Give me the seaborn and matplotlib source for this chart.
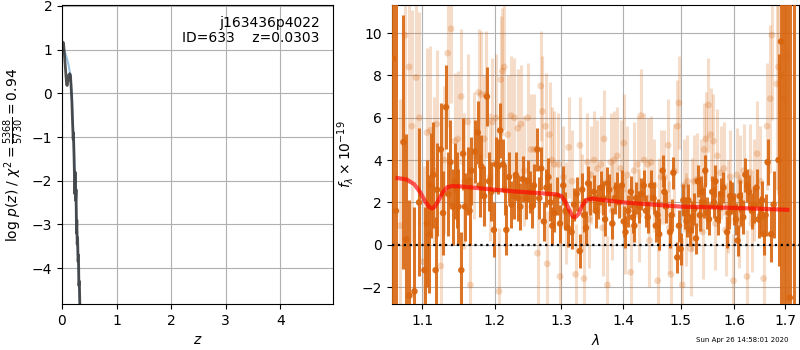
import numpy as np
import pandas as pd
import matplotlib
matplotlib.use("Agg")
import matplotlib.pyplot as plt
import seaborn as sns
from matplotlib.ticker import FixedLocator, FixedFormatter, NullLocator

# ---------------- data ----------------
# p(z) panel
pz_dark_z = [0.0, 0.01, 0.02, 0.03, 0.05, 0.07, 0.085, 0.095, 0.11, 0.125, 0.14, 0.155, 0.165,
             0.18, 0.19, 0.205, 0.21, 0.22, 0.235, 0.24, 0.25, 0.258, 0.265, 0.272, 0.278,
             0.286, 0.295, 0.302, 0.31, 0.318, 0.328]
pz_dark_logp = [0.95, 1.1, 1.17, 1.12, 0.8, 0.45, 0.2, 0.18, 0.3, 0.42, 0.45, 0.42, 0.2,
                -0.15, -0.55, -1.05, -0.9, -1.4, -2.3, -1.8, -2.45, -2.2, -3.2, -2.9, -3.45,
                -3.3, -3.85, -3.7, -4.4, -4.3, -4.9]
pz_blue_z = [0.0, 0.03, 0.06, 0.09, 0.12, 0.15, 0.17, 0.19, 0.21, 0.23, 0.25, 0.27, 0.29, 0.31, 0.33]
pz_blue_logp = [1.05, 1.0, 0.92, 0.8, 0.65, 0.45, 0.15, -0.35, -1.0, -1.7, -2.35, -3.0, -3.7, -4.35, -5.0]

# spectrum panel: grism orientation 1 (dark)
dark_wave = [1.0626, 1.0660, 1.0757, 1.0791, 1.0835, 1.0900, 1.0960, 1.1032, 1.1065, 1.1120,
             1.1180, 1.1200, 1.1250, 1.1280, 1.1320, 1.1350, 1.1410, 1.1440, 1.1490, 1.1530,
             1.1580, 1.1620, 1.1670, 1.1720, 1.1760, 1.1810, 1.1850, 1.1890, 1.1920, 1.1990,
             1.2050, 1.2080, 1.2120, 1.2170, 1.2210, 1.2280, 1.2340, 1.2410, 1.2460, 1.2520,
             1.2580, 1.2630, 1.2690, 1.2730, 1.2770, 1.2830, 1.2890, 1.2980, 1.3030, 1.3100,
             1.3160, 1.3240, 1.3290, 1.3330, 1.3390, 1.3460, 1.3520, 1.3580, 1.3640, 1.3700,
             1.3770, 1.3820, 1.3890, 1.3930, 1.3980, 1.4040, 1.4090, 1.4160, 1.4220, 1.4270,
             1.4350, 1.4420, 1.4480, 1.4560, 1.4620, 1.4680, 1.4740, 1.4810, 1.4870, 1.4940,
             1.5000, 1.5050, 1.5110, 1.5170, 1.5250, 1.5310, 1.5380, 1.5450, 1.5520, 1.5580,
             1.5640, 1.5710, 1.5790, 1.5860, 1.5920, 1.6000, 1.6060, 1.6130, 1.6210, 1.6280,
             1.6340, 1.6430, 1.6510, 1.6570, 1.6650, 1.6720, 1.6770, 1.6870, 1.6920, 1.6990,
             1.7050, 1.7100, 1.7180,
             1.1095, 1.1150, 1.1380, 1.1465, 1.1555, 1.1645, 1.1785, 1.1955, 1.2020, 1.2145,
             1.2245, 1.2310, 1.2375, 1.2490, 1.2550, 1.2660, 1.2800, 1.2860, 1.2940, 1.3065,
             1.3200, 1.3360, 1.3425, 1.3550, 1.3670, 1.3740, 1.3860, 1.4010, 1.4130, 1.4190,
             1.4310, 1.4390, 1.4520, 1.4590, 1.4710, 1.4840, 1.4970, 1.5080, 1.5140, 1.5210,
             1.5280, 1.5350, 1.5420, 1.5490, 1.5610, 1.5680, 1.5750, 1.5890, 1.5960, 1.6030,
             1.6100, 1.6170, 1.6250, 1.6380, 1.6470, 1.6540, 1.6610]
dark_flux = [8.8, 1.6, 4.85, 0.25, -2.4, -2.2, 2.0, -1.2, 1.0, 2.8,
             -1.2, 2.6, 4.5, 1.5, 6.5, 2.4, 1.8, 3.0, 1.8, -1.2,
             1.8, 3.0, 3.5, 4.4, 5.3, 3.7, 2.3, 7.0, 3.0, 0.7,
             3.7, 5.4, 3.8, 0.7, 3.2, 2.3, 2.2, 3.1, 2.2, 2.5,
             2.8, 4.5, 3.6, 1.1, 2.7, 2.0, 1.5, 1.0, 2.8, 0.8,
             0.6, 2.4, -0.3, 2.6, 0.8, 2.2, 2.5, 2.0, 2.7, 1.2,
             2.6, 1.0, 2.7, 2.0, 2.8, 0.6, 1.6, 1.3, 2.2, 1.8,
             2.8, 1.3, 2.8, 0.9, 0.5, 3.5, 1.8, 0.6, 3.4, -0.6,
             -0.2, 2.1, 1.1, 0.7, 1.7, 3.0, 2.5, 3.5, 1.2, 2.5,
             3.0, 1.8, 2.7, 0.6, 2.3, 1.7, 0.2, 1.7, 3.3, 2.5,
             1.6, 2.7, 1.4, 0.5, 3.9, 0.5, 1.9, 4.0, 9.6, 12.5,
             13.0, -2.5, 12.5,
             0.5, 3.3, 3.9, 2.6, 4.3, 1.6, 2.8, 2.5, 3.8, 2.6,
             1.9, 3.3, 1.8, 3.0, 1.8, 2.2, 3.2, 0.9, 2.3, 1.6,
             1.9, 1.4, 2.9, 1.6, 2.2, 2.9, 2.2, 1.1, 2.5, 0.9,
             2.4, 1.6, 2.2, 1.4, 2.5, 1.4, 0.9, 1.5, 2.1, 1.3,
             0.3, 1.4, 2.0, 1.5, 2.0, 1.2, 2.4, 1.5, 2.2, 1.2,
             2.3, 1.3, 2.8, 1.9, 1.2, 2.1, 1.4]
dark_err = [15.0, 12.0, 6.0, 5.0, 4.5, 4.0, 3.5, 3.0, 3.0, 2.5,
            2.5, 2.2, 2.2, 2.0, 2.0, 2.0, 1.8, 1.8, 1.8, 1.8,
            1.6, 1.6, 1.6, 1.5, 1.5, 1.5, 1.4, 1.4, 1.4, 1.3,
            1.3, 1.3, 1.2, 1.2, 1.2, 1.1, 1.1, 1.1, 1.0, 1.0,
            1.0, 1.0, 1.0, 0.9, 0.9, 0.9, 0.9, 0.9, 0.9, 0.9,
            0.8, 0.8, 0.8, 0.8, 0.8, 0.8, 0.8, 0.8, 0.8, 0.8,
            0.75, 0.75, 0.75, 0.75, 0.75, 0.75, 0.75, 0.75, 0.75, 0.75,
            0.75, 0.75, 0.75, 0.75, 0.75, 0.75, 0.75, 0.75, 0.75, 0.75,
            0.75, 0.75, 0.75, 0.75, 0.75, 0.75, 0.75, 0.75, 0.75, 0.75,
            0.75, 0.75, 0.75, 0.75, 0.75, 0.75, 0.75, 0.8, 0.8, 0.8,
            0.85, 0.9, 0.9, 1.0, 1.1, 1.3, 1.6, 5.0, 15.0, 20.0,
            20.0, 20.0, 20.0,
            2.8, 2.5, 2.0, 1.8, 1.7, 1.6, 1.5, 1.4, 1.3, 1.2,
            1.1, 1.1, 1.1, 1.0, 1.0, 1.0, 0.9, 0.9, 0.9, 0.9,
            0.8, 0.8, 0.8, 0.8, 0.8, 0.75, 0.75, 0.75, 0.75, 0.75,
            0.75, 0.75, 0.75, 0.75, 0.75, 0.75, 0.75, 0.75, 0.75, 0.75,
            0.75, 0.75, 0.75, 0.75, 0.75, 0.75, 0.75, 0.75, 0.75, 0.75,
            0.75, 0.8, 0.8, 0.85, 0.9, 0.9, 1.0]

# spectrum panel: grism orientation 2 (light)
light_wave = [1.0713, 1.0778, 1.0830, 1.0865, 1.0922, 1.0965, 1.1019, 1.1065, 1.1111, 1.1157,
              1.1194, 1.1250, 1.1296, 1.1343, 1.1389, 1.1444, 1.1481, 1.1528, 1.1574, 1.1620,
              1.1657, 1.1713, 1.1773, 1.1806, 1.1852, 1.1875, 1.1935, 1.1968, 1.2015, 1.2064,
              1.2089, 1.2114, 1.2139, 1.2188, 1.2238, 1.2287, 1.2337, 1.2386, 1.2436, 1.2485,
              1.2535, 1.2584, 1.2634, 1.2683, 1.2708, 1.2757, 1.2782, 1.2817, 1.2856, 1.2891,
              1.2955, 1.2980, 1.3033, 1.3070, 1.3114, 1.3168, 1.3223, 1.3293, 1.3330, 1.3359,
              1.3413, 1.3440, 1.3467, 1.3522, 1.3576, 1.3630, 1.3660, 1.3685, 1.3739, 1.3793,
              1.3820, 1.3848, 1.3902, 1.3957, 1.4012, 1.4040, 1.4070, 1.4128, 1.4186, 1.4244,
              1.4270, 1.4302, 1.4360, 1.4419, 1.4450, 1.4477, 1.4535, 1.4593, 1.4620, 1.4651,
              1.4709, 1.4779, 1.4800, 1.4826, 1.4884, 1.4942, 1.4971, 1.5031, 1.5061, 1.5090,
              1.5123, 1.5184, 1.5215, 1.5245, 1.5307, 1.5368, 1.5400, 1.5429, 1.5460, 1.5509,
              1.5552, 1.5601, 1.5640, 1.5675, 1.5736, 1.5798, 1.5830, 1.5871, 1.5920, 1.5982,
              1.6046, 1.6080, 1.6112, 1.6178, 1.6243, 1.6309, 1.6340, 1.6375, 1.6441, 1.6507,
              1.6572, 1.6638, 1.6704, 1.6737, 1.6836, 1.6868, 1.6934, 1.6980, 1.7033]
light_flux = [0.9, 9.9, 8.4, 5.6, 7.9, 6.0, -0.8, 5.3, 5.4, 3.5,
              5.7, -1.0, 4.0, 9.05, 10.2, 4.9, 5.0, 7.0, 3.0, 5.8,
              -1.9, 4.2, 7.2, 7.1, 5.0, 7.1, 3.2, 5.8, 6.0, -2.2,
              7.8, 8.2, 8.4, 5.2, 6.1, 6.0, 5.5, 5.7, 3.5, 6.0,
              4.5, 4.5, -0.4, 7.5, 6.3, 5.6, -0.9, 5.2, 4.0, 3.8,
              3.8, -1.5, 3.2, 1.5, 4.6, 3.0, -1.4, 4.7, 2.0, -1.6,
              3.9, 1.2, 3.3, 4.0, 3.6, 3.8, 0.8, 5.0, -1.9, 3.9,
              1.6, 4.0, 4.2, 3.6, 4.8, 0.9, 3.3, -1.3, 3.5, 3.8,
              1.4, 6.1, 4.0, 3.8, 0.2, 3.9, 2.8, -1.7, 1.9, 3.2,
              3.2, 4.7, 0.8, -1.4, 3.5, 5.6, 6.7, -1.9, 2.8, 1.2,
              3.0, -0.2, 1.9, 3.0, 3.1, 2.8, 0.6, 4.5, 5.0, 6.6,
              5.2, 4.9, 1.0, 4.2, 3.4, 3.6, 0.7, 1.8, 3.2, -1.7,
              3.3, 1.1, 3.0, 3.5, -1.5, 3.4, 1.0, 2.6, 4.3, 3.0,
              -1.6, 5.6, 6.9, 9.9, 7.6, 8.4, 8.0, 6.9, 8.9]
light_err = [6.0, 6.0, 5.5, 5.5, 5.0, 5.0, 4.5, 4.0, 4.0, 3.5,
             3.5, 3.5, 3.5, 3.5, 3.5, 3.2, 3.2, 3.2, 3.2, 3.2,
             3.0, 3.0, 3.0, 3.0, 3.0, 3.0, 3.0, 3.0, 3.0, 3.0,
             3.0, 3.0, 3.0, 2.8, 2.8, 2.8, 2.8, 2.8, 2.6, 2.6,
             2.6, 2.6, 2.6, 2.6, 2.6, 2.5, 2.5, 2.5, 2.5, 2.5,
             2.4, 2.4, 2.4, 2.4, 2.4, 2.4, 2.4, 2.3, 2.3, 2.3,
             2.3, 2.3, 2.3, 2.3, 2.3, 2.3, 2.3, 2.3, 2.3, 2.3,
             2.3, 2.3, 2.3, 2.3, 2.3, 2.3, 2.3, 2.3, 2.3, 2.3,
             2.2, 2.2, 2.2, 2.2, 2.2, 2.2, 2.2, 2.2, 2.2, 2.2,
             2.2, 2.2, 2.2, 2.2, 2.2, 2.2, 2.2, 2.2, 2.2, 2.2,
             2.2, 2.2, 2.2, 2.2, 2.2, 2.2, 2.2, 2.2, 2.2, 2.2,
             2.2, 2.2, 2.2, 2.2, 2.2, 2.2, 2.2, 2.2, 2.2, 2.2,
             2.2, 2.2, 2.2, 2.2, 2.2, 2.3, 2.3, 2.4, 2.5, 2.6,
             2.8, 3.0, 3.5, 4.0, 5.0, 6.0, 7.0, 8.0, 9.0]

# best-fit model
model_wave = [1.068, 1.080, 1.090, 1.098, 1.104, 1.109, 1.113, 1.117, 1.122, 1.128, 1.134,
              1.140, 1.150, 1.175, 1.200, 1.225, 1.250, 1.275, 1.292, 1.300, 1.307, 1.313,
              1.318, 1.322, 1.327, 1.333, 1.340, 1.350, 1.365, 1.400, 1.450, 1.500, 1.550,
              1.600, 1.650, 1.705]
model_flux = [3.15, 3.08, 2.85, 2.45, 2.05, 1.8, 1.72, 1.8, 2.1, 2.5, 2.72,
              2.77, 2.76, 2.68, 2.6, 2.53, 2.47, 2.42, 2.38, 2.3, 2.0, 1.6,
              1.33, 1.3, 1.45, 1.85, 2.12, 2.18, 2.12, 2.0, 1.9, 1.8, 1.77,
              1.74, 1.7, 1.65]

lam_ticks = [1.1, 1.2, 1.3, 1.4, 1.5, 1.6, 1.7]
lam_ticklabels = ["1.1", "1.2", "1.3", "1.4", "1.5", "1.6", "1.7"]

# ---------------- figure ----------------
plt.rcParams["font.family"] = ["DejaVu Sans"]
fig = plt.figure(figsize=(8, 3.5), dpi=100)
ax1 = fig.add_axes([0.0775, 0.1314, 0.339, 0.854])
ax2 = fig.add_axes([0.4896, 0.1314, 0.5095, 0.854])

orange = "#d9660f"
gridkw = dict(color="#b0b0b0", linewidth=0.8)

# ---- p(z) panel
df_blue = pd.DataFrame({"z": pz_blue_z, "logp": pz_blue_logp})
df_dark = pd.DataFrame({"z": pz_dark_z, "logp": pz_dark_logp})
sns.lineplot(data=df_blue, x="z", y="logp", ax=ax1, color="#6fa8d6", alpha=0.7,
             linewidth=1.5, sort=False, estimator=None)
sns.lineplot(data=df_dark, x="z", y="logp", ax=ax1, color="#333333", alpha=0.85,
             linewidth=2.0, sort=False, estimator=None)
ax1.set_xlim(0, 4.97)
ax1.set_ylim(-4.82, 2.02)
ax1.set_xticks([0, 1, 2, 3, 4])
ax1.set_yticks([-4, -3, -2, -1, 0, 1, 2])
ax1.grid(True, **gridkw)
ax1.set_axisbelow(True)
ax1.set_xlabel("$z$", fontsize=10)
ax1.set_ylabel(r"log $p(z)$ / $\chi^2=\frac{5368}{5730}=0.94$", fontsize=10)
ax1.text(0.95, 0.965, "j163436p4022\nID=633    z=0.0303", transform=ax1.transAxes,
         ha="right", va="top", fontsize=10, linespacing=1.15)
ax1.tick_params(labelsize=10)

# ---- spectrum panel
ax2.errorbar(light_wave, light_flux, yerr=light_err, fmt="none", ecolor=orange,
             elinewidth=2.2, alpha=0.22, zorder=2)
df_light = pd.DataFrame({"wave": light_wave, "flux": light_flux})
sns.scatterplot(data=df_light, x="wave", y="flux", ax=ax2, color=orange, alpha=0.25,
                s=24, edgecolor="none", zorder=3)
ax2.errorbar(dark_wave, dark_flux, yerr=dark_err, fmt="none", ecolor=orange,
             elinewidth=2.2, alpha=0.9, zorder=4)
df_darkspec = pd.DataFrame({"wave": dark_wave, "flux": dark_flux})
sns.scatterplot(data=df_darkspec, x="wave", y="flux", ax=ax2, color=orange, alpha=0.95,
                s=22, edgecolor="none", zorder=5)
df_model = pd.DataFrame({"wave": model_wave, "flux": model_flux})
sns.lineplot(data=df_model, x="wave", y="flux", ax=ax2, color="red", alpha=0.65,
             linewidth=3, sort=False, estimator=None, zorder=6)
ax2.axhline(0, color="black", linestyle=":", linewidth=1.6, zorder=7)

ax2.set_xscale("log")
ax2.set_xlim(1.0606, 1.7295)
ax2.set_ylim(-2.8, 11.32)
ax2.xaxis.set_major_locator(FixedLocator(lam_ticks))
ax2.xaxis.set_major_formatter(FixedFormatter(lam_ticklabels))
ax2.xaxis.set_minor_locator(NullLocator())
ax2.set_yticks([-2, 0, 2, 4, 6, 8, 10])
ax2.grid(True, **gridkw)
ax2.set_axisbelow(True)
ax2.set_xlabel(r"$\lambda$", fontsize=10)
ax2.set_ylabel(r"$f_\lambda \times 10^{-19}$", fontsize=10)
ax2.tick_params(labelsize=10)

fig.text(0.985, 0.028, "Sun Apr 26 14:58:01 2020", ha="right", va="center", fontsize=5)

fig.savefig("out.png", dpi=100)
